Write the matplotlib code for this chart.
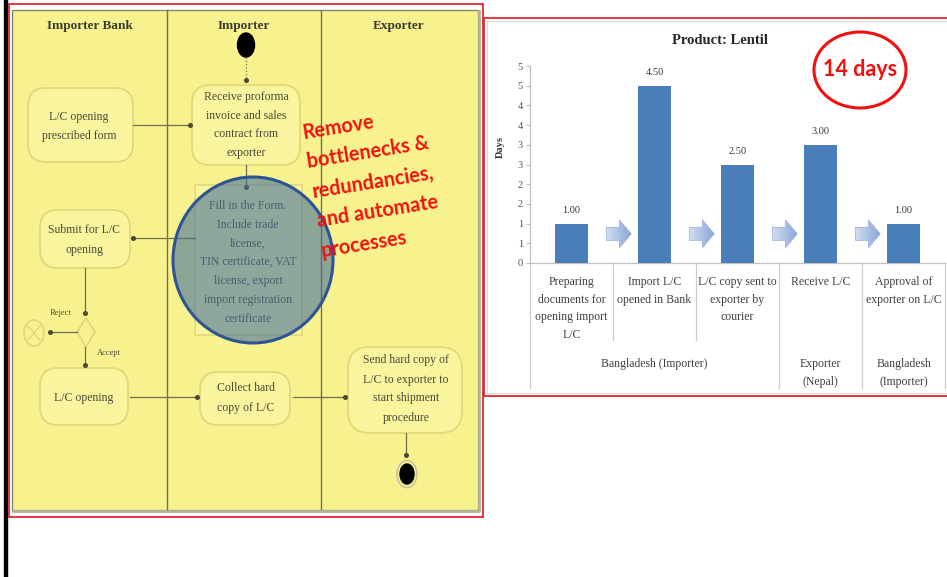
import numpy as np
import matplotlib
matplotlib.use("Agg")
import matplotlib.pyplot as plt
from matplotlib.patches import FancyBboxPatch, Ellipse, Rectangle, Polygon

# ---------------- data ----------------
steps = ["Preparing\ndocuments for\nopening import\nL/C",
         "Import L/C\nopened in Bank",
         "L/C copy sent to\nexporter by\ncourier",
         "Receive L/C",
         "Approval of\nexporter on L/C"]
days = [1.00, 4.50, 2.50, 3.00, 1.00]
value_labels = ["1.00", "4.50", "2.50", "3.00", "1.00"]
groups = ["Bangladesh (Importer)", "Exporter\n(Nepal)", "Bangladesh\n(Importer)"]
group_first = [0, 3, 4]
group_last = [2, 3, 4]
y_ticks = [0, 0.5, 1.0, 1.5, 2.0, 2.5, 3.0, 3.5, 4.0, 4.5, 5.0]
y_tick_labels = ["0", "1", "1", "2", "2", "3", "3", "4", "4", "5", "5"]
chart_title = "Product: Lentil"
y_label = "Days"
total_label = "14 days"

lanes = ["Importer Bank", "Importer", "Exporter"]
node_receive = ["Receive proforma", "invoice and sales", "contract from", "exporter"]
node_form = ["L/C opening", "prescribed form"]
node_fill = ["Fill in the Form.", "Include trade", "license,", "TIN certificate, VAT",
             "license, export", "import registration", "certificate"]
node_submit = ["Submit for L/C", "opening"]
node_open = ["L/C opening"]
node_collect = ["Collect hard", "copy of L/C"]
node_send = ["Send hard copy of", "L/C to exporter to", "start shipment", "procedure"]
reject_label = "Reject"
accept_label = "Accept"
callout = "Remove\nbottlenecks &\nredundancies,\nand automate\nprocesses"

# ---------------- figure ----------------
W, H = 947, 577
fig = plt.figure(figsize=(W / 100, H / 100), dpi=100)
fig.patch.set_facecolor("white")

ax0 = fig.add_axes([0, 0, 1, 1])
ax0.set_xlim(0, W)
ax0.set_ylim(H, 0)
ax0.axis("off")

SERIF = "Liberation Serif"
SANS = ["Lato", "DejaVu Sans"]
RED = "#f01010"
TXT = "#4a4a38"
LINE = "#6e6e4c"
YEL = "#f7f28e"

# left decorations
ax0.add_patch(Rectangle((4, 0), 3, H, color="black", zorder=1))
ax0.add_patch(Rectangle((8.5, 3.5), 474, 513, fill=False, ec="#e0282e", lw=1.3, zorder=1))
ax0.add_patch(Rectangle((12, 9.5), 465.5, 500, fc=YEL, ec="#808066", lw=0.9, zorder=1))
ax0.plot([13, 478.5, 478.5], [511, 511, 11], color="#b4b496", lw=2, zorder=1)

for xl in (167, 321):
    ax0.plot([xl, xl], [10, 509], color="#707058", lw=1.0, zorder=2)

for txt, cx in zip(lanes, (90, 244, 399)):
    ax0.text(cx, 26, txt, ha="center", va="center", fontsize=9.5, fontweight="bold",
             family=SERIF, color="#3a3a30", zorder=3)


def rbox(x0, y0, x1, y1, r=18):
    ax0.add_patch(FancyBboxPatch((x0, y0), x1 - x0, y1 - y0,
                                 boxstyle=f"round,pad=0,rounding_size={r}",
                                 fc="#f9f59e", ec="#e0d87a", lw=1.3, zorder=2))


def mtext(cx, cy, lines, spacing, size=8.5, z=3):
    n = len(lines)
    for i, ln in enumerate(lines):
        ax0.text(cx, cy + (i - (n - 1) / 2) * spacing, ln, ha="center", va="center",
                 fontsize=size, family=SERIF, color=TXT, zorder=z)


def conn(xs, ys, dot=True, ls="-"):
    ax0.plot(xs, ys, color=LINE, lw=0.9, ls=ls, zorder=2.5)
    if dot:
        ax0.plot(xs[-1], ys[-1], "o", ms=2.6, color="#4a4a30", zorder=2.6)


# start node
ax0.add_patch(Ellipse((246, 45), 17, 24, color="black", zorder=3))
conn([246, 246], [57, 80], ls=":")

rbox(192, 85, 300, 165)
mtext(246, 125, node_receive, 18.7)
rbox(28, 88, 133, 162)
mtext(79, 126.5, node_form, 19)
conn([133, 190], [125, 125])
conn([246, 246], [165, 187])

ax0.add_patch(Rectangle((195, 185), 107, 150, fc="#f9f59e", ec="#e0d87a", lw=1.2, zorder=2))
mtext(248, 262.5, node_fill, 18.8, z=2.7)
conn([195, 133], [238, 238])

rbox(40, 210, 130, 268)
mtext(84, 240, node_submit, 20)
conn([85, 85], [268, 313])
ax0.text(61, 313, reject_label, ha="center", va="center", fontsize=6, family=SERIF,
         color=TXT, zorder=3)
ax0.add_patch(Polygon([[86, 318], [95, 332], [86, 347], [77, 332]], closed=True,
                      fc="none", ec="#e0d87a", lw=1.3, zorder=2))
conn([77, 50], [332, 332])
ax0.add_patch(Ellipse((34, 333), 20, 26, fc="none", ec="#e0d87a", lw=1.3, zorder=2))
ax0.plot([28, 40], [326, 340], color="#e0d87a", lw=1, zorder=2)
ax0.plot([28, 40], [340, 326], color="#e0d87a", lw=1, zorder=2)
ax0.text(109, 353, accept_label, ha="center", va="center", fontsize=6, family=SERIF,
         color=TXT, zorder=3)
conn([85, 85], [347, 365])

rbox(40, 368, 128, 425)
mtext(84, 398, node_open, 19)
conn([130, 197], [397, 397])
rbox(200, 372, 290, 425)
mtext(246, 398, node_collect, 20)
conn([293, 345], [397, 397])
rbox(348, 347, 462, 433, r=22)
mtext(406, 389, node_send, 19)
conn([406, 406], [433, 455])
ax0.add_patch(Ellipse((407, 474), 20, 27, fc="none", ec="#c8c4a0", lw=1.2, zorder=3))
ax0.add_patch(Ellipse((407, 474), 14, 20, color="black", zorder=3))

# highlight circle
ax0.add_patch(Ellipse((253, 260), 160, 166, fc="#416e9c", alpha=0.58, ec="none", zorder=2.8))
ax0.add_patch(Ellipse((253, 260), 160, 166, fc="none", ec="#2f5496", lw=2.2, zorder=2.9))

# callout text
ax0.text(301, 123, callout, rotation=9, rotation_mode="anchor", ha="left", va="top",
         multialignment="left", fontsize=14.3, fontweight="bold",
         family=SANS, color=RED, linespacing=1.62, zorder=4)

# right panel frames
ax0.add_patch(Rectangle((483.5, 17.5), 480, 378.5, fill=False, ec="#e0282e", lw=1.3, zorder=1))
ax0.add_patch(Rectangle((486.5, 20.5), 480, 372.5, fill=False, ec="#dcdcdc", lw=0.8, zorder=1))
ax0.text(720, 41, chart_title, ha="center", va="center", fontsize=10.5, fontweight="bold",
         family=SERIF, color="#262626", zorder=3)
ax0.add_patch(Ellipse((860, 70), 92, 76, fill=False, ec=RED, lw=2.2, zorder=3))
ax0.text(860, 70, total_label, ha="center", va="center", fontsize=15.5, fontweight="bold",
         family=SANS, color=RED, zorder=4)

# ---------------- bar chart ----------------
x0p, x1p, y0p, y1p = 530, 945, 263, 66
ax = fig.add_axes([x0p / W, (H - y0p) / H, (x1p - x0p) / W, (y0p - y1p) / H])
ax.patch.set_visible(False)
x = np.arange(len(days))
ax.bar(x, days, width=0.4, color="#4a7ebb", zorder=3)
for i, v in enumerate(days):
    ax.annotate(value_labels[i], (x[i], v), xytext=(0, 9.5), textcoords="offset points",
                ha="center", va="center", fontsize=7.5, family=SERIF, color="#333333")

# block arrows between steps (gradient filled)
grad = np.linspace(0, 1, 64).reshape(1, -1)
cmap = matplotlib.colors.LinearSegmentedColormap.from_list("arr", ["#d3def1", "#8aa7d6"])
for b in x[:-1] + 0.5:
    xs = b + 0.07 - 0.15
    xm = xs + 0.157
    xe = xs + 0.30
    yc, bh, hh = 0.74, 0.165, 0.355
    verts = [[xs, yc - bh], [xm, yc - bh], [xm, yc - hh], [xe, yc], [xm, yc + hh],
             [xm, yc + bh], [xs, yc + bh]]
    poly = Polygon(verts, closed=True, fc="none", ec="#9fb4dc", lw=0.6, zorder=4)
    ax.add_patch(poly)
    im = ax.imshow(grad, extent=[xs, xe, yc - hh, yc + hh], cmap=cmap, aspect="auto",
                   zorder=3.5, interpolation="bilinear")
    im.set_clip_path(poly)
ax.set_xlim(-0.5, len(days) - 0.5)
ax.set_ylim(0, 5)

ax.set_yticks(y_ticks, labels=y_tick_labels)
ax.set_xticks(x, labels=steps)
for s in ("top", "right"):
    ax.spines[s].set_visible(False)
for s in ("left", "bottom"):
    ax.spines[s].set_color("#c0c0c0")
    ax.spines[s].set_linewidth(0.9)
ax.tick_params(axis="y", length=3, color="#c0c0c0", pad=2, labelsize=7.5, labelcolor="#505050")
ax.tick_params(axis="x", length=0, pad=9.5, labelsize=8.5, labelcolor="#404040")
for lab in ax.get_xticklabels() + ax.get_yticklabels():
    lab.set_family(SERIF)
for lab in ax.get_xticklabels():
    lab.set_linespacing(1.62)

ax.set_ylabel(y_label, fontsize=7.5, fontweight="bold", family=SERIF, color="#333333")
ax.yaxis.set_label_coords(-(x0p - 505) / (x1p - x0p), (y0p - 147) / (y0p - y1p))

hpx = y0p - y1p
short_y = -(340 - y0p) / hpx
long_y = -(388 - y0p) / hpx
tr = ax.get_xaxis_transform()
bounds = list(x[:-1] + 0.5)
long_bounds = [-0.5] + [group_last[g] + 0.5 for g in range(len(groups))]
for b in bounds:
    if b not in long_bounds:
        ax.plot([b, b], [0, short_y], transform=tr, clip_on=False, color="#cccccc", lw=0.9)
for b in long_bounds:
    ax.plot([b, b], [0, long_y], transform=tr, clip_on=False, color="#cccccc", lw=0.9)
for g, name in enumerate(groups):
    cx = (group_first[g] + group_last[g]) / 2
    ax.text(cx, -(358 - y0p) / hpx, name, transform=tr, ha="center", va="top",
            fontsize=8.5, family=SERIF, color="#404040", linespacing=1.62)

fig.savefig("out.png", dpi=100)
